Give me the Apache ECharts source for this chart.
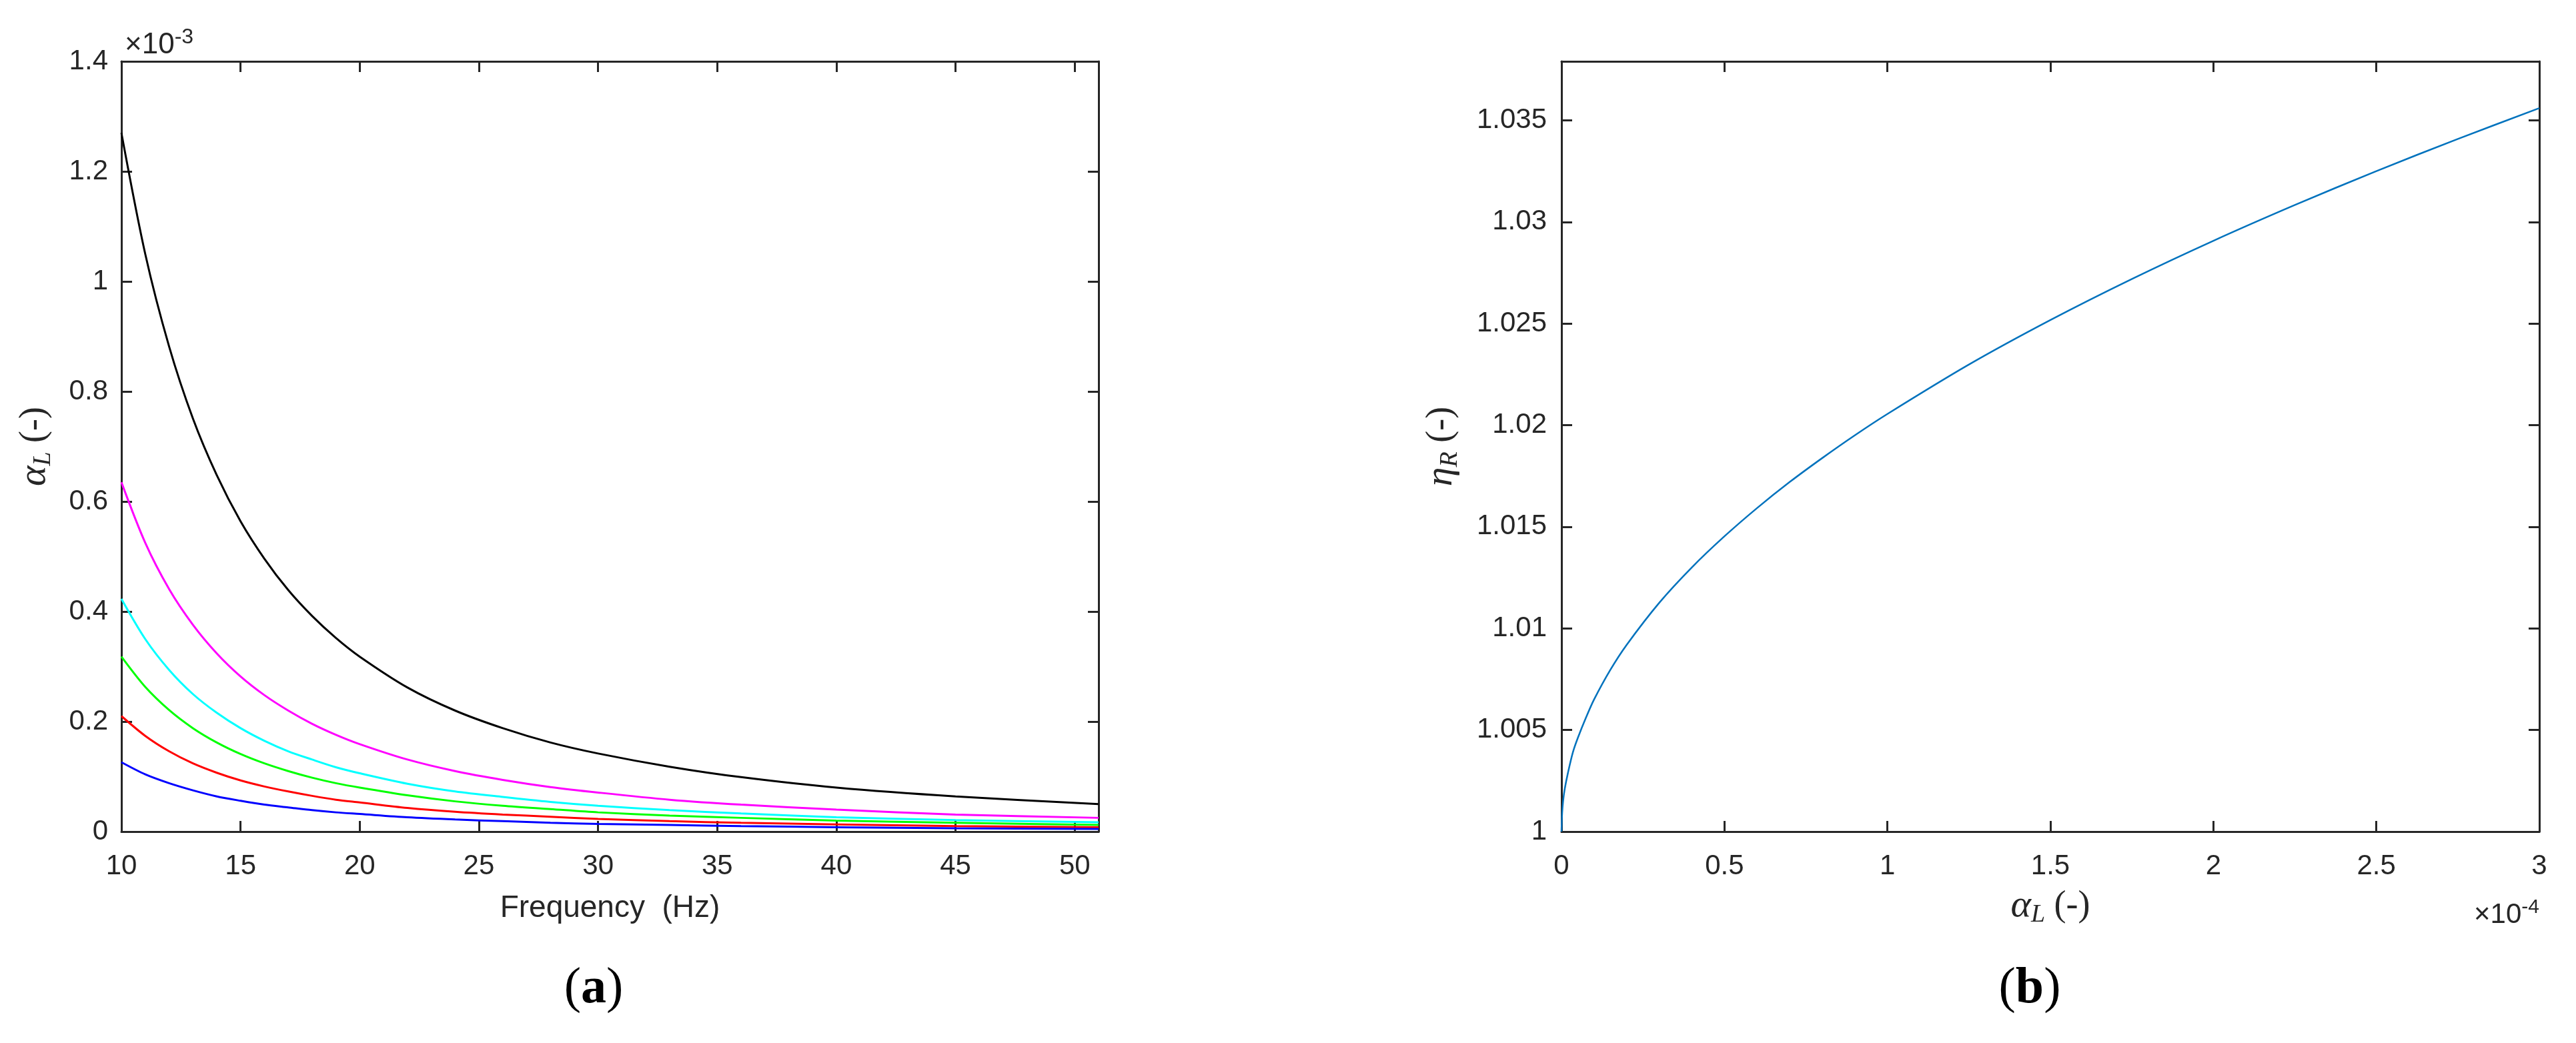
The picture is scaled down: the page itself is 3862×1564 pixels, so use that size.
<!DOCTYPE html>
<html>
<head>
<meta charset="utf-8">
<script src="https://cdn.jsdelivr.net/npm/echarts@6/dist/echarts.min.js"></script>
<style>
html,body{margin:0;padding:0;background:#fff;}
#chart{width:3862px;height:1564px;}
</style>
</head>
<body>
<div id="chart"></div>
<script>
// ---- Panel (a): alpha_L (x1e-3) versus frequency (Hz) ----
const freq = [10,11,12,13,14,15,16,17,18,19,20,22,24,26,28,30,33,36,40,45,51];
const alphaBlack   = [1.270,1.050,0.882,0.751,0.648,0.564,0.496,0.439,0.392,0.352,0.318,0.262,0.220,0.188,0.162,0.142,0.118,0.099,0.080,0.064,0.050];
const alphaMagenta = [0.635,0.525,0.441,0.376,0.324,0.282,0.248,0.220,0.196,0.176,0.159,0.131,0.110,0.094,0.081,0.071,0.058,0.049,0.040,0.031,0.025];
const alphaCyan    = [0.423,0.350,0.294,0.250,0.216,0.188,0.165,0.146,0.131,0.117,0.106,0.087,0.073,0.063,0.054,0.047,0.039,0.033,0.026,0.021,0.017];
const alphaGreen   = [0.318,0.263,0.221,0.188,0.162,0.141,0.124,0.110,0.098,0.088,0.080,0.066,0.055,0.047,0.041,0.035,0.029,0.025,0.020,0.016,0.012];
const alphaRed     = [0.210,0.174,0.146,0.124,0.107,0.093,0.082,0.073,0.065,0.058,0.053,0.043,0.036,0.031,0.027,0.023,0.019,0.016,0.013,0.010,0.008];
const alphaBlue    = [0.126,0.104,0.088,0.075,0.064,0.056,0.049,0.044,0.039,0.035,0.032,0.026,0.022,0.019,0.016,0.014,0.012,0.010,0.008,0.006,0.005];
const seriesNamesA = ['k','m','c','g','r','b'];
const seriesColorsA = ['#000000','#FF00FF','#00FFFF','#00FF00','#FF0000','#0000FF'];
const seriesDataA = [alphaBlack, alphaMagenta, alphaCyan, alphaGreen, alphaRed, alphaBlue];

// ---- Panel (b): eta_R versus alpha_L (x1e-4) ----
const alphaL = [0,0.002,0.005,0.01,0.02,0.035,0.05,0.075,0.1,0.15,0.2,0.3,0.4,0.5,0.6,0.7,0.8,0.9,1.0,1.25,1.5,1.75,2.0,2.25,2.5,2.75,3.0];
const etaR   = [1.0000,1.0009,1.0015,1.0021,1.0029,1.0039,1.0046,1.0056,1.00650,1.00796,1.00919,1.01126,1.01300,1.01453,1.01592,1.01720,1.01838,1.01950,1.02055,1.02298,1.02517,1.02719,1.02907,1.03083,1.03250,1.03408,1.03560];

const xTicksA = [10,15,20,25,30,35,40,45,50];

const AX = '#262626';
const SANS = "'Liberation Sans', Arial, Helvetica, sans-serif";
const SERIF = "'Liberation Serif', 'DejaVu Serif', serif";
const TICKFS = 42;

function boxAxis(common, extra) {
  return Object.assign({
    type: 'value',
    axisLine: {show: true, onZero: false, lineStyle: {color: AX, width: 3}},
    axisTick: {show: true, inside: true, length: 16, lineStyle: {color: AX, width: 3}},
    splitLine: {show: false},
    axisLabel: {show: false}
  }, common, extra);
}

const gridA = {left: 182, top: 92, width: 1465, height: 1155};
const gridB = {left: 2341, top: 92, width: 1466, height: 1155};

const xA = {gridIndex: 0, min: 10, max: 51, interval: 5};
const yA = {gridIndex: 0, min: 0, max: 1.4, interval: 0.2};
const xB = {gridIndex: 1, min: 0, max: 3, interval: 0.5};
const yB = {gridIndex: 1, min: 1, max: 1.0379, interval: 0.005};

const labelBase = {show: true, color: AX, fontSize: TICKFS, fontFamily: SANS};
const nameRich = {
  a: {fontSize: 58, fontStyle: 'italic', fontFamily: SERIF, color: AX},
  s: {fontSize: 38, fontStyle: 'italic', fontFamily: SERIF, color: AX, padding: [26,0,0,0]},
  n: {fontSize: 54, fontFamily: SERIF, color: AX}
};

const option = {
  animation: false,
  backgroundColor: '#ffffff',
  grid: [Object.assign({containLabel: false}, gridA), Object.assign({containLabel: false}, gridB)],
  xAxis: [
    boxAxis(xA, {position: 'bottom',
      axisLabel: Object.assign({}, labelBase, {margin: 31,
        formatter: v => (xTicksA.indexOf(Math.round(v*1000)/1000) >= 0 ? String(Math.round(v)) : '')}),
      name: 'Frequency  (Hz)', nameLocation: 'middle', nameGap: 92,
      nameTextStyle: {color: AX, fontSize: 46, fontFamily: SANS}}),
    boxAxis(xA, {position: 'top'}),
    boxAxis(xB, {position: 'bottom',
      axisLabel: Object.assign({}, labelBase, {margin: 31,
        formatter: v => String(parseFloat(v.toFixed(2)))}),
      name: '{a|α}{s|L}{n| (-)}', nameLocation: 'middle', nameGap: 80,
      nameTextStyle: {color: AX, fontSize: 54, fontFamily: SERIF, rich: nameRich}}),
    boxAxis(xB, {position: 'top'})
  ],
  yAxis: [
    boxAxis(yA, {position: 'left',
      axisLabel: Object.assign({}, labelBase, {margin: 20,
        formatter: v => String(parseFloat(v.toFixed(1)))}),
      name: '{a|α}{s|L}{n| (-)}', nameLocation: 'middle', nameGap: 98, nameRotate: 90,
      nameTextStyle: {color: AX, fontSize: 54, fontFamily: SERIF, rich: nameRich}}),
    boxAxis(yA, {position: 'right'}),
    boxAxis(yB, {position: 'left',
      axisLabel: Object.assign({}, labelBase, {margin: 22,
        formatter: v => {
          const k = Math.round((v - 1) / 0.005);
          if (Math.abs(v - (1 + k*0.005)) > 1e-7) return '';
          return String(parseFloat(v.toFixed(3)));
        }}),
      name: '{a|η}{s|R}{n| (-)}', nameLocation: 'middle', nameGap: 148, nameRotate: 90,
      nameTextStyle: {color: AX, fontSize: 54, fontFamily: SERIF, rich: nameRich}}),
    boxAxis(yB, {position: 'right'})
  ],
  series: seriesDataA.map((arr, i) => ({
    name: seriesNamesA[i],
    type: 'line',
    xAxisIndex: 0, yAxisIndex: 0,
    data: freq.map((f, j) => [f, arr[j]]),
    showSymbol: false, symbol: 'none',
    smooth: 0.3,
    lineStyle: {color: seriesColorsA[i], width: 3},
    z: 3
  })).concat([{
    name: 'eta',
    type: 'line',
    xAxisIndex: 2, yAxisIndex: 2,
    data: alphaL.map((a, j) => [a, etaR[j]]),
    showSymbol: false, symbol: 'none',
    smooth: 0.3,
    lineStyle: {color: '#0072BD', width: 2.5},
    z: 3
  }]),
  graphic: [
    {type: 'text', left: 187, top: 40, z: 10,
      style: {text: '{t|×10}{e|-3}', rich: {
        t: {fontSize: 44, fontFamily: SANS, fill: AX},
        e: {fontSize: 32, fontFamily: SANS, fill: AX, padding: [0,0,23,0]}
      }}},
    {type: 'text', right: 55, top: 1346, z: 10,
      style: {text: '{t|×10}{e|-4}', rich: {
        t: {fontSize: 42, fontFamily: SANS, fill: AX},
        e: {fontSize: 30, fontFamily: SANS, fill: AX, padding: [0,0,23,0]}
      }}},
    {type: 'text', x: 890, y: 1483, z: 10,
      style: {text: '{p|(}{l|a}{p|)}', align: 'center', verticalAlign: 'middle',
        rich: {
          p: {fontSize: 76, fontFamily: SERIF, fill: '#000'},
          l: {fontSize: 76, fontFamily: SERIF, fontWeight: 'bold', fill: '#000'}
        }}},
    {type: 'text', x: 3043, y: 1483, z: 10,
      style: {text: '{p|(}{l|b}{p|)}', align: 'center', verticalAlign: 'middle',
        rich: {
          p: {fontSize: 76, fontFamily: SERIF, fill: '#000'},
          l: {fontSize: 76, fontFamily: SERIF, fontWeight: 'bold', fill: '#000'}
        }}}
  ]
};

const chart = echarts.init(document.getElementById('chart'), null, {renderer: 'canvas'});
chart.setOption(option);
</script>
</body>
</html>
